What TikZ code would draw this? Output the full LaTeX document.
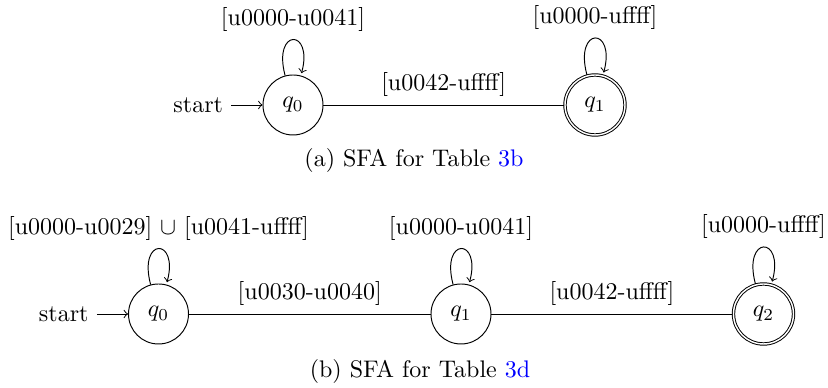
\documentclass[tikz,border=0pt]{standalone}
\usetikzlibrary{automata}
\begin{document}
\begin{tikzpicture}[x=0.41667pt,y=-0.41667pt,>=to,
  every state/.style={draw,thin},
  lbl/.style={above},
  link/.style={-}]
\useasboundingbox (0,0) rectangle (828,388);
% (a)
\node[state,initial] (a0) at (293,105) {$q_0$};
\node[state,accepting] (a1) at (595,105) {$q_1$};
\path[->] (a0) edge[loop above] node[lbl] {[u0000-u0041]} ()
          (a0) edge[link] node[lbl] {[u0042-uffff]} (a1)
          (a1) edge[loop above] node[lbl] {[u0000-uffff]} ();
\node (capa) at (414,161) {(a) SFA for Table \textcolor{blue}{3b}};
% (b)
\node[state,initial] (b0) at (158.5,314) {$q_0$};
\node[state] (b1) at (461,314) {$q_1$};
\node[state,accepting] (b2) at (763.5,314) {$q_2$};
\path[->] (b0) edge[loop above] node[lbl] {[u0000-u0029] $\cup$ [u0041-uffff]} ()
          (b0) edge[link] node[lbl] {[u0030-u0040]} (b1)
          (b1) edge[loop above] node[lbl] {[u0000-u0041]} ()
          (b1) edge[link] node[lbl] {[u0042-uffff]} (b2)
          (b2) edge[loop above] node[lbl] {[u0000-uffff]} ();
\node (capb) at (420,372) {(b) SFA for Table \textcolor{blue}{3d}};
\end{tikzpicture}
\end{document}
